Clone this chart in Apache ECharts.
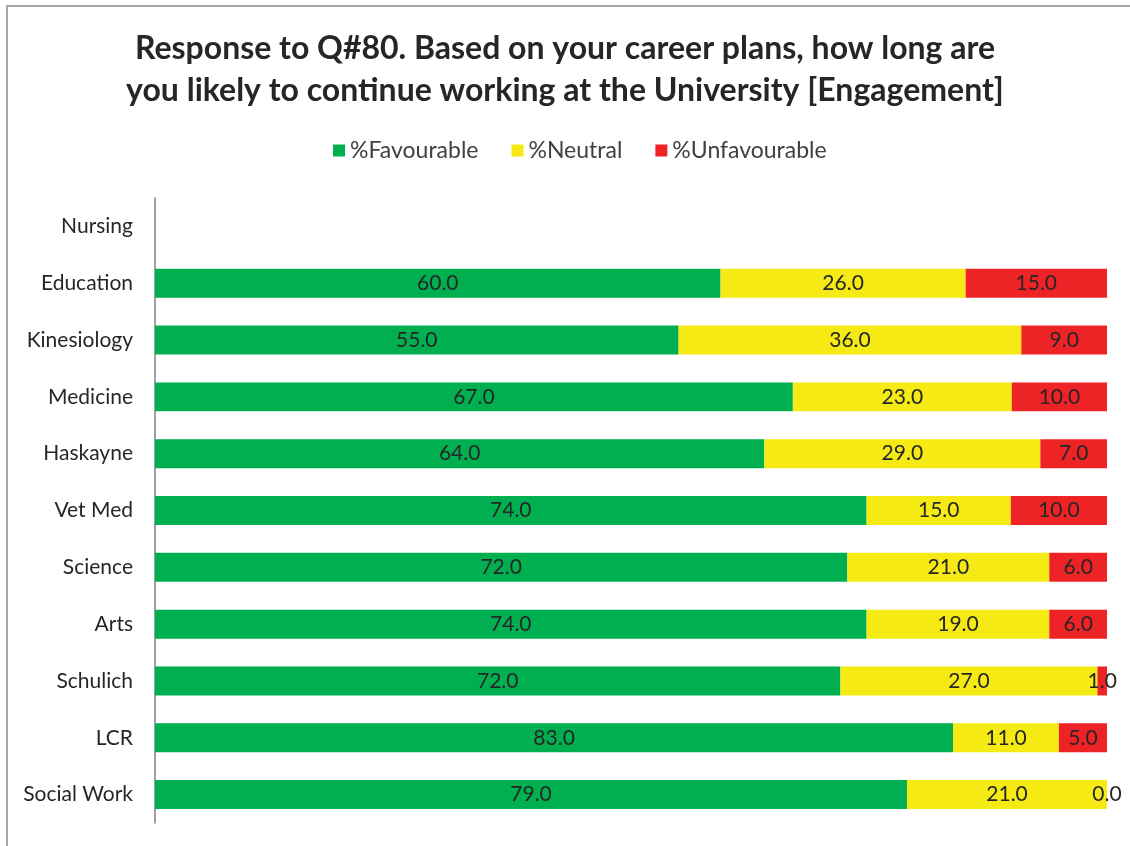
<!DOCTYPE html>
<html>
<head>
<meta charset="utf-8">
<script src="https://cdn.jsdelivr.net/npm/echarts@6/dist/echarts.min.js"></script>
<style>
  html, body { margin: 0; padding: 0; background: #fff; }
  #chart { width: 1130px; height: 846px; }
</style>
</head>
<body>
<div id="chart"></div>
<script>
const faculties = ['Nursing', 'Education', 'Kinesiology', 'Medicine', 'Haskayne', 'Vet Med',
  'Science', 'Arts', 'Schulich', 'LCR', 'Social Work']
const favourable = [null, 60, 55, 67, 64, 74, 72, 74, 72, 83, 79]
const neutral = [null, 26, 36, 23, 29, 15, 21, 19, 27, 11, 21]
const unfavourable = [null, 15, 9, 10, 7, 10, 6, 6, 1, 5, 0]

// Excel 100% stacked: each row is scaled to its own total
const toPercent = (arr) => arr.map((v, i) => {
  if (v === null) return null
  const total = favourable[i] + neutral[i] + unfavourable[i]
  return total ? v / total * 100 : 0
})

const font = 'Lato, "Open Sans", sans-serif'
const colors = { fav: '#00b050', neu: '#f5ea14', unf: '#ee2326' }

const makeSeries = (name, raw, color) => ({
  name: name,
  type: 'bar',
  stack: 'total',
  barWidth: '51%',
  itemStyle: { color: color },
  label: {
    show: true,
    position: 'inside',
    fontFamily: font,
    fontSize: 21,
    color: '#262626',
    formatter: (p) => raw[p.dataIndex] === null ? '' : raw[p.dataIndex].toFixed(1)
  },
  emphasis: { disabled: true },
  data: toPercent(raw)
})

const chart = echarts.init(document.getElementById('chart'))
chart.setOption({
  animation: false,
  title: {
    text: 'Response to Q#80. Based on your career plans, how long are\nyou likely to continue working at the University [Engagement]',
    left: 'center',
    top: 23,
    textStyle: {
      fontFamily: font,
      fontSize: 32,
      fontWeight: 'bold',
      color: '#262626',
      lineHeight: 42
    }
  },
  legend: {
    data: ['%Favourable', '%Neutral', '%Unfavourable'],
    top: 134,
    left: 328,
    itemWidth: 12,
    itemHeight: 12,
    itemGap: 33,
    icon: 'rect',
    textStyle: { fontFamily: font, fontSize: 23, color: '#404040' }
  },
  grid: { left: 155, right: 23, top: 198, bottom: 23, containLabel: false },
  xAxis: {
    type: 'value',
    min: 0,
    max: 100,
    show: false
  },
  yAxis: {
    type: 'category',
    inverse: true,
    data: faculties,
    axisLine: { show: true, lineStyle: { color: '#808080', width: 1.5 } },
    axisTick: { show: false },
    axisLabel: { fontFamily: font, fontSize: 21, color: '#262626', margin: 22 }
  },
  graphic: [{
    type: 'rect',
    shape: { x: 7, y: 6, width: 1200, height: 900 },
    style: { fill: 'none', stroke: '#a6a6a6', lineWidth: 2 },
    silent: true
  }],
  series: [
    makeSeries('%Favourable', favourable, colors.fav),
    makeSeries('%Neutral', neutral, colors.neu),
    makeSeries('%Unfavourable', unfavourable, colors.unf)
  ]
})
</script>
</body>
</html>
